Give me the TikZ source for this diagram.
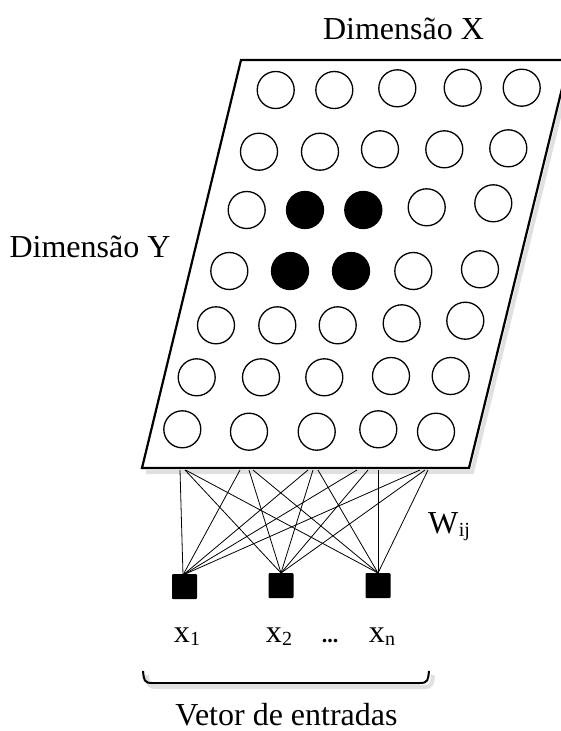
\documentclass[tikz,border=0pt]{standalone}
\usepackage{fontspec}
\setmainfont{Liberation Serif}
\begin{document}
\begin{tikzpicture}[x=1pt,y=-1pt,
  cell/.style={circle,draw,line width=1.3pt,minimum size=37pt,inner sep=0pt},
  full/.style={cell,fill=black},
  inp/.style={rectangle,fill=black,minimum size=25pt,inner sep=0pt,rounded corners=1pt},
  wire/.style={line width=0.8pt},
  shade/.style={black!12,line width=4pt},
  lbl/.style={font=\fontsize{32}{38}\selectfont,anchor=base,inner sep=0pt},
  sub/.style={font=\fontsize{20}{24}\selectfont,anchor=base,inner sep=0pt}]
\useasboundingbox (0,0) rectangle (560,731);
% soft shadows
\draw[shade] (572,64) -- (472,472) -- (146,472);
\draw[shade] (147,675) .. controls (148,684) and (148,687) .. (156,687) -- (424,687) .. controls (432,687) and (432,684) .. (433,675);
% layer
\draw[line width=2.2pt,line join=miter,fill=white] (241,60) -- (569,60) -- (469,468) -- (142,468) -- cycle;
% neurons
\foreach \x/\y/\n in {275.7/90/c11,334.3/90/c12,397.3/88.3/c13,462.7/87.7/c14,521.7/87.7/c15,
  259/151.7/c21,320/151.7/c22,380/149.3/c23,444.3/149.3/c24,508.3/148.3/c25,
  246.7/210/c31,426.7/207.3/c34,493.3/203.3/c35,
  229.3/271/c41,413.3/271/c44,480/269.3/c45,
  216/325.3/c51,277.3/325.3/c52,337.7/325.3/c53,401.7/323.3/c54,465.3/320.7/c55,
  196.7/377.3/c61,261/377.3/c62,324.3/377.3/c63,391/376/c64,450.7/376/c65,
  182.3/429.3/c71,249/431.7/c72,316.7/431.7/c73,378.3/429.3/c74,436/431.7/c75}
  \node[cell] (\n) at (\x,\y) {};
\foreach \x/\y/\n in {305/210/c32,363.3/210/c33,290/271/c42,351/271/c43}
  \node[full] (\n) at (\x,\y) {};
% inputs
\node[inp] (s1) at (184.5,586.5) {};
\node[inp] (s2) at (281,585.5) {};
\node[inp] (s3) at (378,585.5) {};
% wire start points on the layer edge
\foreach \x/\n in {180/a11,185/a12,185.5/a13,240/a21,249/a22,253/a23,308/a31,313/a32,318/a33,357/a41,368/a42,378/a43,420/a51,425/a52,428/a53}
  \coordinate (\n) at (\x,470);
\coordinate (e1) at (183,575);
\coordinate (e2) at (281,573);
\coordinate (e3) at (378,573);
\foreach \g in {1,2,3,4,5}{
  \draw[wire] (a\g1) -- (e1);
  \draw[wire] (a\g2) -- (e2);
  \draw[wire] (a\g3) -- (e3);
}
% labels
\node[lbl] (dx) at (403.5,39) {Dimensão X};
\node[lbl] (dy) at (90,257) {Dimensão Y};
\node[lbl,anchor=base west] (w) at (428,533) {W};
\node[sub,anchor=base west] (wij) at (w.base east) {\raisebox{-3pt}{ij}};
\node[lbl,anchor=base east] (x1) at (190,642) {x};
\node[sub,anchor=base west] (x1s) at (x1.base east) {\raisebox{-3pt}{1}};
\node[lbl,anchor=base east] (x2) at (282,642) {x};
\node[sub,anchor=base west] (x2s) at (x2.base east) {\raisebox{-3pt}{2}};
\node[lbl] (dots) at (330,642) {\fontsize{22}{24}\selectfont\bfseries ...};
\node[lbl,anchor=base east] (xn) at (385,642) {x};
\node[sub,anchor=base west] (xns) at (xn.base east) {\raisebox{-3pt}{n}};
% bracket
\coordinate (b1) at (143,671);
\coordinate (b2) at (429,671);
\draw[line width=2pt] (b1) .. controls (144,680) and (144,683) .. (152,683) -- (420,683) .. controls (428,683) and (428,680) .. (b2);
\node[lbl] (vet) at (286.5,725) {Vetor de entradas};
\end{tikzpicture}
\end{document}
